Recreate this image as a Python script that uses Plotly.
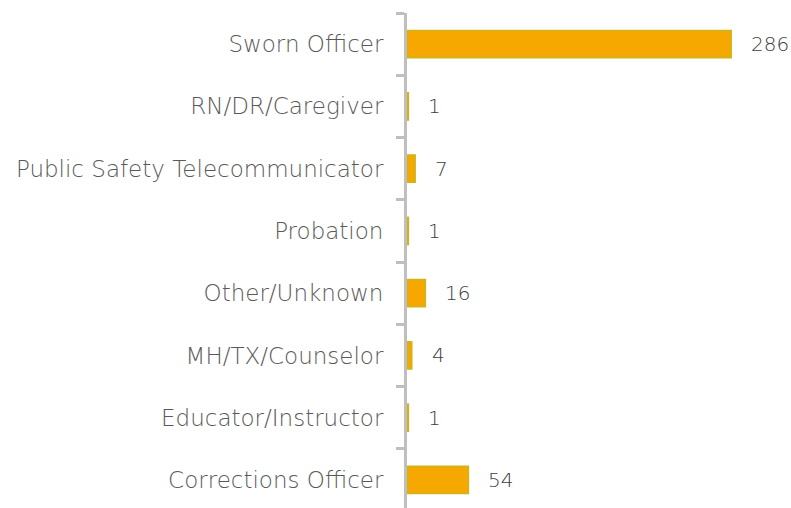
import plotly.graph_objects as go

# Responder roles and their counts (bottom to top)
roles = [
    "Corrections Officer",
    "Educator/Instructor",
    "MH/TX/Counselor",
    "Other/Unknown",
    "Probation",
    "Public Safety Telecommunicator",
    "RN/DR/Caregiver",
    "Sworn Officer",
]
counts = [54, 1, 4, 16, 1, 7, 1, 286]

W, H = 791, 508
LEFT, TOP = 407, 13
FONT = "DejaVu Sans"

fig = go.Figure()
fig.add_trace(go.Bar(
    x=counts,
    y=roles,
    orientation="h",
    marker=dict(color="#F6A700", line=dict(color="#D6B315", width=2)),
    width=0.43,
    hoverinfo="x+y",
))

# Value labels to the right of each bar
for r, c in zip(roles, counts):
    fig.add_annotation(
        x=c, y=r, text=str(c), showarrow=False,
        xanchor="left", yanchor="middle", xshift=18,
        font=dict(family=FONT, size=20, color="#404040", weight=300),
    )

fig.update_layout(
    width=W, height=H,
    margin=dict(l=LEFT, r=0, t=TOP, b=0, pad=0),
    paper_bgcolor="white",
    plot_bgcolor="white",
    showlegend=False,
    xaxis=dict(
        range=[0, 339],
        visible=False,
        fixedrange=True,
    ),
    yaxis=dict(
        type="category",
        categoryorder="array",
        categoryarray=roles,
        range=[-0.45, 7.5],
        showline=True,
        linecolor="#BFBFBF",
        linewidth=3,
        ticks="outside",
        tickson="boundaries",
        ticklen=8,
        tickwidth=3,
        tickcolor="#BFBFBF",
        showgrid=False,
        zeroline=False,
        ticklabelstandoff=16,
        tickfont=dict(family=FONT, size=23, color="#595959", weight=300),
    ),
    font=dict(family=FONT),
)

fig.write_html("out.html")
